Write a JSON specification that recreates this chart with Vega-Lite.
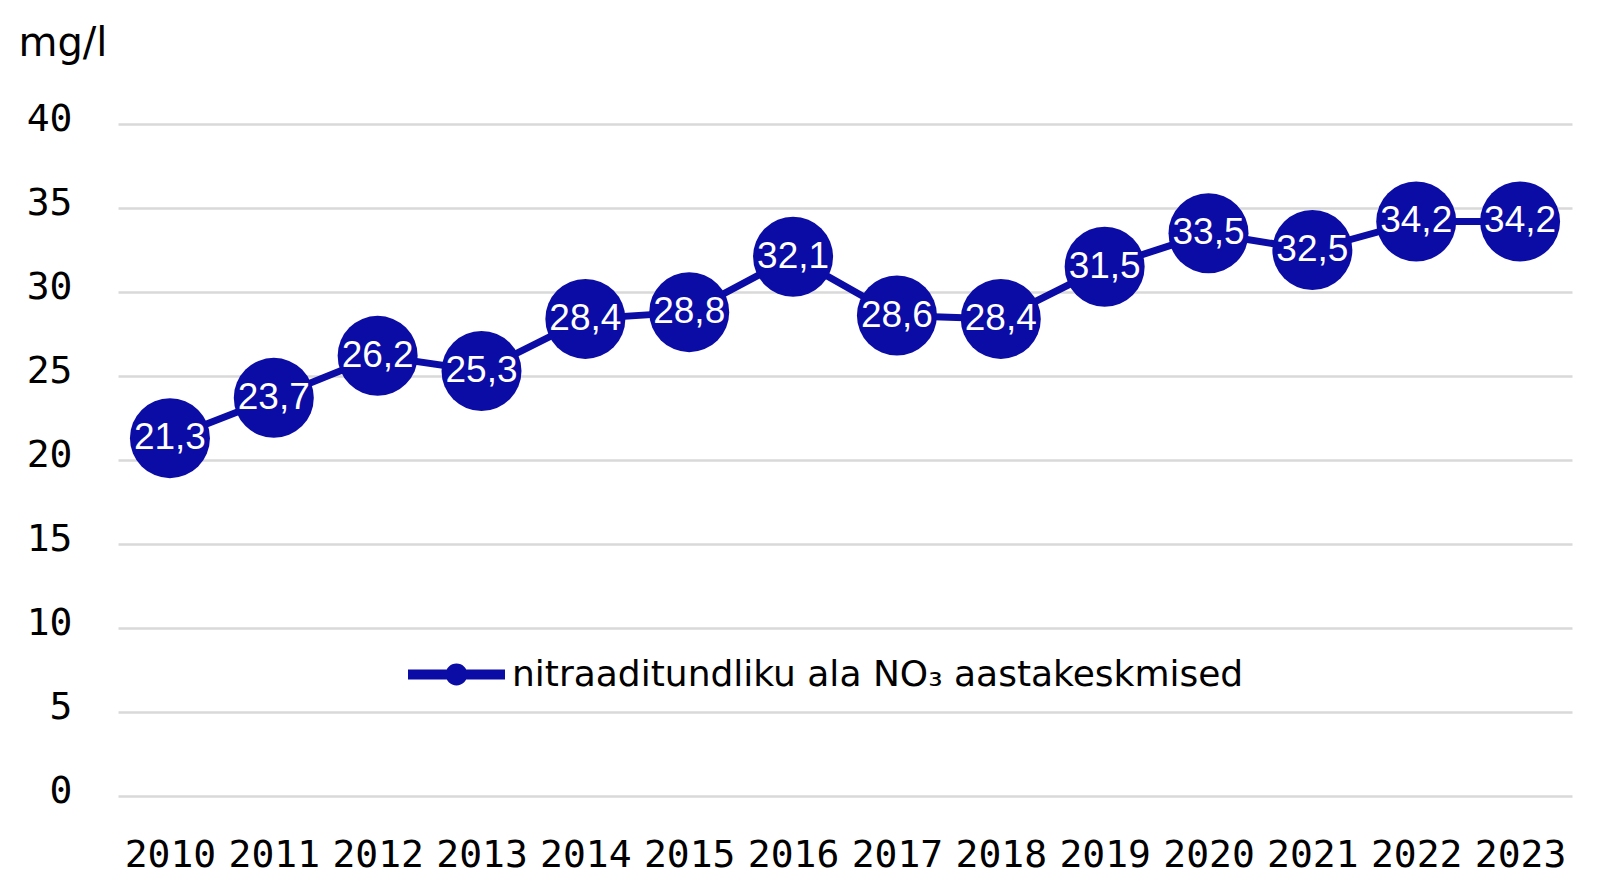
{
  "$schema": "https://vega.github.io/schema/vega-lite/v6.json",
  "width": 1454,
  "height": 672,
  "autosize": {"type": "none"},
  "padding": {"left": 118, "top": 124, "right": 39, "bottom": 95},
  "background": "white",
  "config": {
    "view": {"stroke": null},
    "locale": {"number": {"decimal": ",", "thousands": " ", "grouping": [3], "currency": ["", " €"]}}
  },
  "data": {
    "values": [
      {"year": "2010", "value": 21.3},
      {"year": "2011", "value": 23.7},
      {"year": "2012", "value": 26.2},
      {"year": "2013", "value": 25.3},
      {"year": "2014", "value": 28.4},
      {"year": "2015", "value": 28.8},
      {"year": "2016", "value": 32.1},
      {"year": "2017", "value": 28.6},
      {"year": "2018", "value": 28.4},
      {"year": "2019", "value": 31.5},
      {"year": "2020", "value": 33.5},
      {"year": "2021", "value": 32.5},
      {"year": "2022", "value": 34.2},
      {"year": "2023", "value": 34.2}
    ]
  },
  "encoding": {
    "x": {
      "field": "year", "type": "ordinal",
      "scale": {"type": "point", "padding": 0.5},
      "axis": {
        "title": null, "labelAngle": 0, "domain": false, "ticks": false,
        "labelFont": "DejaVu Sans Mono", "labelFontSize": 38, "labelColor": "#000000",
        "labelPadding": 40, "labelBaseline": "top", "grid": false
      }
    },
    "y": {
      "field": "value", "type": "quantitative",
      "scale": {"domain": [0, 40], "nice": false, "zero": true},
      "axis": {
        "values": [0, 5, 10, 15, 20, 25, 30, 35, 40],
        "title": "mg/l", "titleAngle": 0, "titleAlign": "left", "titleBaseline": "alphabetic",
        "titleX": -100, "titleY": -69, "titleFont": "DejaVu Sans", "titleFontSize": 40,
        "titleFontWeight": "normal", "titleColor": "#000000",
        "domain": false, "ticks": false, "grid": true, "gridColor": "#d9d9d9", "gridWidth": 2.5,
        "labelFont": "DejaVu Sans Mono", "labelFontSize": 38, "labelColor": "#000000",
        "labelPadding": 46, "labelOffset": -5, "labelBaseline": "middle"
      }
    }
  },
  "layer": [
    {
      "mark": {"type": "line", "color": "#0b0ba5", "strokeWidth": 7}
    },
    {
      "mark": {"type": "point", "filled": true, "size": 6400, "opacity": 1, "strokeWidth": 0},
      "encoding": {
        "color": {
          "datum": "nitraaditundliku ala NO₃ aastakeskmised",
          "type": "nominal",
          "scale": {"range": ["#0b0ba5"]},
          "legend": {
            "title": null,
            "orient": "none",
            "legendX": 314,
            "legendY": 526,
            "padding": 0,
            "symbolType": "M -2 -0.21 L 2 -0.21 L 2 0.21 L -2 0.21 Z M 0.45 0 A 0.45 0.45 0 1 1 -0.45 0 A 0.45 0.45 0 1 1 0.45 0 Z",
            "symbolSize": 2352,
            "symbolStrokeWidth": 0,
            "symbolFillColor": "#0b0ba5",
            "symbolOpacity": 1,
            "labelFont": "DejaVu Sans",
            "labelFontSize": 36,
            "labelColor": "#000000",
            "labelOffset": 31,
            "labelLimit": 1000
          }
        }
      }
    },
    {
      "mark": {"type": "text", "color": "#ffffff", "font": "Liberation Sans", "fontSize": 37, "align": "center", "baseline": "middle"},
      "encoding": {
        "text": {"field": "value", "type": "quantitative", "format": ".1f"}
      }
    }
  ]
}
